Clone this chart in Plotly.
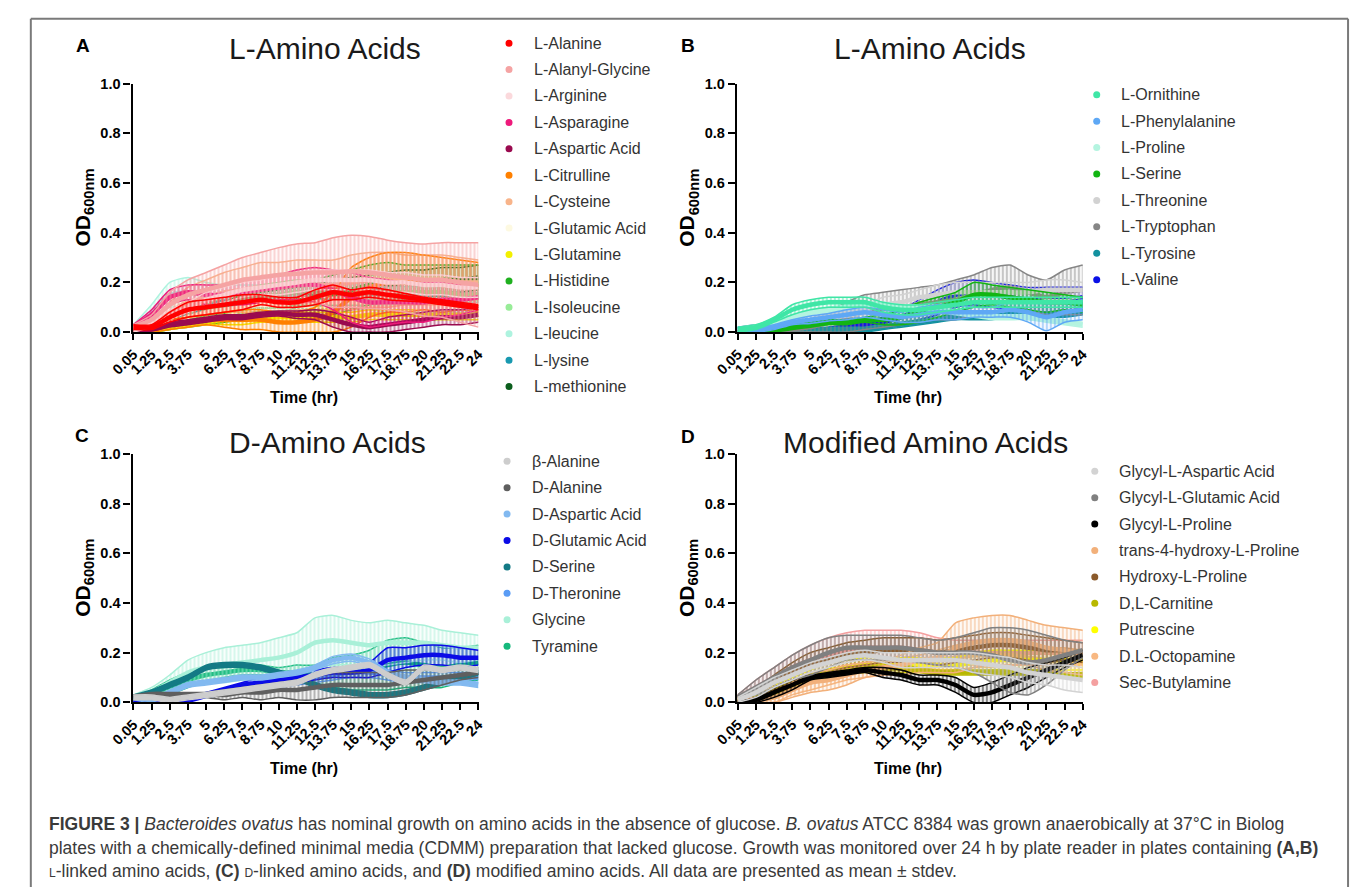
import plotly.graph_objects as go

W, H = 1357, 895
FONT = "Liberation Sans, Arial, sans-serif"

# ---------------- shared x categories (time, hr) ----------------
times = ["0.05", "1.25", "2.5", "3.75", "5", "6.25", "7.5", "8.75", "10", "11.25",
         "12.5", "13.75", "15", "16.25", "17.5", "18.75", "20", "21.25", "22.5", "24"]
y_ticks = [0.0, 0.2, 0.4, 0.6, 0.8, 1.0]
y_ticktext = ["0.0", "0.2", "0.4", "0.6", "0.8", "1.0"]

# ---------------- Panel A: L-Amino Acids ----------------
A_names = ["L-Alanine", "L-Alanyl-Glycine", "L-Arginine", "L-Asparagine", "L-Aspartic Acid",
           "L-Citrulline", "L-Cysteine", "L-Glutamic Acid", "L-Glutamine", "L-Histidine",
           "L-Isoleucine", "L-leucine", "L-lysine", "L-methionine"]
A_colors = ["#ff0000", "#f5a3a3", "#fbd9dc", "#ee1a7b", "#9a0a4f", "#ff8000", "#f8b48a",
            "#fdf9e1", "#f3f000", "#1fb01f", "#98ec98", "#aef3df", "#1899b0", "#0b5e1d"]
A_alanine_mean = [0.02, 0.02, 0.06, 0.09, 0.10, 0.11, 0.12, 0.13, 0.12, 0.12, 0.14, 0.16, 0.15, 0.16, 0.15, 0.14, 0.13, 0.12, 0.11, 0.10]
A_alanine_err = [0.01, 0.01, 0.02, 0.03, 0.03, 0.03, 0.03, 0.02, 0.02, 0.02, 0.03, 0.03, 0.02, 0.02, 0.02, 0.015, 0.01, 0.01, 0.01, 0.01]
A_alanylgly_mean = [0.02, 0.05, 0.11, 0.15, 0.17, 0.19, 0.21, 0.22, 0.23, 0.235, 0.24, 0.24, 0.245, 0.24, 0.23, 0.22, 0.21, 0.21, 0.20, 0.19]
A_alanylgly_err = [0.01, 0.02, 0.05, 0.06, 0.07, 0.08, 0.09, 0.10, 0.11, 0.12, 0.12, 0.14, 0.145, 0.145, 0.14, 0.14, 0.145, 0.15, 0.16, 0.17]
A_arginine_mean = [0.01, 0.03, 0.07, 0.10, 0.13, 0.15, 0.17, 0.18, 0.19, 0.20, 0.21, 0.21, 0.21, 0.21, 0.20, 0.20, 0.19, 0.19, 0.18, 0.18]
A_arginine_err = [0.01, 0.01, 0.02, 0.02, 0.03, 0.03, 0.03, 0.03, 0.04, 0.04, 0.04, 0.04, 0.04, 0.04, 0.04, 0.04, 0.04, 0.04, 0.04, 0.04]
A_asparagine_mean = [0.02, 0.07, 0.14, 0.16, 0.15, 0.15, 0.16, 0.17, 0.18, 0.19, 0.19, 0.17, 0.14, 0.12, 0.12, 0.12, 0.12, 0.13, 0.13, 0.14]
A_asparagine_err = [0.01, 0.02, 0.03, 0.03, 0.04, 0.04, 0.05, 0.05, 0.05, 0.06, 0.07, 0.08, 0.10, 0.10, 0.09, 0.08, 0.08, 0.07, 0.06, 0.05]
A_aspartic_mean = [0.01, 0.01, 0.03, 0.04, 0.05, 0.06, 0.06, 0.07, 0.075, 0.07, 0.07, 0.05, 0.03, 0.02, 0.03, 0.04, 0.05, 0.06, 0.06, 0.07]
A_aspartic_err = [0.005, 0.005, 0.01, 0.01, 0.01, 0.01, 0.01, 0.01, 0.01, 0.015, 0.02, 0.03, 0.03, 0.02, 0.03, 0.03, 0.03, 0.03, 0.03, 0.03]
A_citrulline_mean = [0.01, 0.01, 0.03, 0.04, 0.05, 0.05, 0.05, 0.05, 0.04, 0.04, 0.05, 0.08, 0.14, 0.18, 0.20, 0.20, 0.20, 0.19, 0.19, 0.18]
A_citrulline_err = [0.005, 0.01, 0.02, 0.02, 0.02, 0.03, 0.04, 0.04, 0.04, 0.04, 0.05, 0.08, 0.12, 0.12, 0.12, 0.12, 0.11, 0.11, 0.10, 0.10]
A_cysteine_mean = [0.01, 0.03, 0.08, 0.12, 0.14, 0.16, 0.17, 0.18, 0.18, 0.19, 0.19, 0.19, 0.20, 0.21, 0.21, 0.21, 0.21, 0.21, 0.20, 0.20]
A_cysteine_err = [0.005, 0.02, 0.04, 0.06, 0.07, 0.08, 0.09, 0.10, 0.10, 0.10, 0.10, 0.10, 0.11, 0.11, 0.11, 0.10, 0.10, 0.10, 0.10, 0.09]
A_glutamic_mean = [0.01, 0.02, 0.04, 0.06, 0.08, 0.09, 0.10, 0.11, 0.11, 0.12, 0.12, 0.12, 0.12, 0.12, 0.12, 0.12, 0.11, 0.11, 0.11, 0.11]
A_glutamic_err = [0.01, 0.01, 0.01, 0.02, 0.02, 0.02, 0.02, 0.02, 0.02, 0.02, 0.02, 0.02, 0.02, 0.02, 0.02, 0.02, 0.02, 0.02, 0.02, 0.02]
A_glutamine_mean = [0.01, 0.01, 0.02, 0.03, 0.04, 0.05, 0.05, 0.06, 0.06, 0.06, 0.06, 0.06, 0.06, 0.07, 0.07, 0.07, 0.07, 0.07, 0.07, 0.07]
A_glutamine_err = [0.005, 0.01, 0.01, 0.01, 0.01, 0.02, 0.02, 0.02, 0.02, 0.02, 0.02, 0.02, 0.02, 0.02, 0.02, 0.02, 0.02, 0.02, 0.02, 0.02]
A_histidine_mean = [0.01, 0.01, 0.02, 0.04, 0.06, 0.08, 0.10, 0.11, 0.12, 0.13, 0.14, 0.15, 0.17, 0.19, 0.20, 0.20, 0.20, 0.20, 0.20, 0.20]
A_histidine_err = [0.005, 0.01, 0.01, 0.02, 0.03, 0.04, 0.05, 0.05, 0.06, 0.06, 0.07, 0.08, 0.08, 0.08, 0.08, 0.07, 0.07, 0.07, 0.07, 0.07]
A_isoleucine_mean = [0.01, 0.01, 0.02, 0.05, 0.08, 0.11, 0.13, 0.14, 0.15, 0.16, 0.16, 0.16, 0.16, 0.16, 0.16, 0.16, 0.16, 0.16, 0.15, 0.15]
A_isoleucine_err = [0.005, 0.01, 0.01, 0.02, 0.03, 0.03, 0.04, 0.05, 0.05, 0.05, 0.05, 0.05, 0.05, 0.05, 0.05, 0.05, 0.05, 0.05, 0.05, 0.05]
A_leucine_mean = [0.02, 0.08, 0.15, 0.16, 0.15, 0.14, 0.14, 0.14, 0.14, 0.14, 0.14, 0.14, 0.14, 0.14, 0.13, 0.13, 0.13, 0.13, 0.13, 0.13]
A_leucine_err = [0.01, 0.03, 0.05, 0.06, 0.05, 0.05, 0.05, 0.05, 0.05, 0.05, 0.05, 0.05, 0.05, 0.05, 0.05, 0.05, 0.05, 0.05, 0.05, 0.05]
A_lysine_mean = [0.01, 0.02, 0.05, 0.07, 0.09, 0.10, 0.11, 0.12, 0.12, 0.13, 0.13, 0.14, 0.14, 0.14, 0.15, 0.15, 0.15, 0.15, 0.15, 0.15]
A_lysine_err = [0.01, 0.01, 0.02, 0.02, 0.02, 0.03, 0.03, 0.03, 0.03, 0.03, 0.03, 0.03, 0.03, 0.03, 0.03, 0.03, 0.03, 0.03, 0.03, 0.03]
A_methionine_mean = [0.01, 0.02, 0.04, 0.06, 0.08, 0.10, 0.11, 0.12, 0.13, 0.14, 0.15, 0.16, 0.17, 0.18, 0.19, 0.20, 0.20, 0.21, 0.21, 0.22]
A_methionine_err = [0.01, 0.01, 0.02, 0.02, 0.03, 0.03, 0.03, 0.04, 0.04, 0.04, 0.04, 0.05, 0.05, 0.05, 0.05, 0.05, 0.05, 0.05, 0.05, 0.05]
A_means = [A_alanine_mean, A_alanylgly_mean, A_arginine_mean, A_asparagine_mean, A_aspartic_mean,
           A_citrulline_mean, A_cysteine_mean, A_glutamic_mean, A_glutamine_mean, A_histidine_mean,
           A_isoleucine_mean, A_leucine_mean, A_lysine_mean, A_methionine_mean]
A_errs = [A_alanine_err, A_alanylgly_err, A_arginine_err, A_asparagine_err, A_aspartic_err,
          A_citrulline_err, A_cysteine_err, A_glutamic_err, A_glutamine_err, A_histidine_err,
          A_isoleucine_err, A_leucine_err, A_lysine_err, A_methionine_err]

# ---------------- Panel B: L-Amino Acids ----------------
B_names = ["L-Ornithine", "L-Phenylalanine", "L-Proline", "L-Serine", "L-Threonine",
           "L-Tryptophan", "L-Tyrosine", "L-Valine"]
B_colors = ["#3fe6a6", "#5ea8f5", "#b4f4e0", "#12b512", "#d2d2d2", "#868686", "#13919f", "#0a10e6"]
B_ornithine_mean = [0.01, 0.02, 0.05, 0.09, 0.11, 0.12, 0.12, 0.12, 0.10, 0.09, 0.09, 0.10, 0.11, 0.12, 0.12, 0.12, 0.12, 0.12, 0.12, 0.12]
B_ornithine_err = [0.01, 0.01, 0.01, 0.02, 0.02, 0.02, 0.02, 0.02, 0.02, 0.02, 0.02, 0.02, 0.02, 0.02, 0.02, 0.02, 0.02, 0.02, 0.02, 0.02]
B_phenylalanine_mean = [0.01, 0.01, 0.02, 0.04, 0.05, 0.06, 0.07, 0.08, 0.07, 0.06, 0.07, 0.08, 0.08, 0.08, 0.08, 0.09, 0.08, 0.06, 0.08, 0.09]
B_phenylalanine_err = [0.01, 0.01, 0.01, 0.01, 0.015, 0.015, 0.02, 0.02, 0.02, 0.02, 0.03, 0.03, 0.03, 0.02, 0.02, 0.03, 0.04, 0.055, 0.04, 0.04]
B_proline_mean = [0.01, 0.02, 0.04, 0.06, 0.08, 0.09, 0.10, 0.11, 0.11, 0.10, 0.10, 0.09, 0.08, 0.07, 0.06, 0.06, 0.06, 0.05, 0.04, 0.03]
B_proline_err = [0.01, 0.01, 0.01, 0.01, 0.01, 0.01, 0.01, 0.01, 0.01, 0.01, 0.01, 0.01, 0.01, 0.01, 0.01, 0.01, 0.01, 0.01, 0.01, 0.01]
B_serine_mean = [0.0, 0.0, 0.01, 0.02, 0.03, 0.04, 0.04, 0.05, 0.05, 0.06, 0.08, 0.10, 0.12, 0.15, 0.15, 0.14, 0.13, 0.12, 0.12, 0.11]
B_serine_err = [0.005, 0.005, 0.01, 0.01, 0.01, 0.01, 0.01, 0.01, 0.02, 0.03, 0.04, 0.04, 0.04, 0.05, 0.04, 0.04, 0.04, 0.04, 0.03, 0.03]
B_threonine_mean = [0.0, 0.01, 0.02, 0.03, 0.05, 0.07, 0.08, 0.09, 0.11, 0.12, 0.14, 0.15, 0.16, 0.16, 0.16, 0.16, 0.16, 0.17, 0.17, 0.17]
B_threonine_err = [0.01, 0.01, 0.01, 0.01, 0.02, 0.02, 0.02, 0.02, 0.03, 0.03, 0.03, 0.04, 0.04, 0.04, 0.04, 0.04, 0.04, 0.04, 0.04, 0.03]
B_tryptophan_mean = [0.0, 0.0, 0.0, 0.01, 0.02, 0.04, 0.06, 0.08, 0.09, 0.10, 0.11, 0.12, 0.13, 0.15, 0.17, 0.18, 0.16, 0.14, 0.16, 0.17]
B_tryptophan_err = [0.0, 0.0, 0.0, 0.01, 0.02, 0.04, 0.06, 0.07, 0.07, 0.07, 0.07, 0.07, 0.08, 0.08, 0.09, 0.09, 0.07, 0.07, 0.09, 0.10]
B_tyrosine_mean = [0.01, 0.02, 0.01, 0.01, 0.01, 0.01, 0.01, 0.01, 0.02, 0.03, 0.04, 0.05, 0.06, 0.06, 0.06, 0.07, 0.07, 0.07, 0.07, 0.08]
B_tyrosine_err = [0.01, 0.01, 0.01, 0.01, 0.01, 0.01, 0.01, 0.01, 0.01, 0.01, 0.01, 0.01, 0.01, 0.01, 0.01, 0.01, 0.01, 0.01, 0.01, 0.01]
B_valine_mean = [0.0, 0.0, 0.0, 0.0, 0.0, 0.01, 0.02, 0.03, 0.04, 0.06, 0.09, 0.12, 0.15, 0.16, 0.15, 0.14, 0.13, 0.13, 0.13, 0.14]
B_valine_err = [0.0, 0.0, 0.0, 0.0, 0.0, 0.01, 0.01, 0.01, 0.02, 0.03, 0.04, 0.05, 0.05, 0.05, 0.05, 0.05, 0.05, 0.05, 0.05, 0.04]
B_means = [B_ornithine_mean, B_phenylalanine_mean, B_proline_mean, B_serine_mean, B_threonine_mean,
           B_tryptophan_mean, B_tyrosine_mean, B_valine_mean]
B_errs = [B_ornithine_err, B_phenylalanine_err, B_proline_err, B_serine_err, B_threonine_err,
          B_tryptophan_err, B_tyrosine_err, B_valine_err]

# ---------------- Panel C: D-Amino Acids ----------------
C_names = ["β-Alanine", "D-Alanine", "D-Aspartic Acid", "D-Glutamic Acid", "D-Serine",
           "D-Theronine", "Glycine", "Tyramine"]
C_colors = ["#cdcdcd", "#5f5f5f", "#82b9f0", "#0b0be6", "#137a85", "#5a9cf5", "#a9f0d8", "#16b87c"]
C_balanine_mean = [0.02, 0.02, 0.01, 0.02, 0.03, 0.04, 0.05, 0.06, 0.07, 0.08, 0.11, 0.13, 0.14, 0.15, 0.11, 0.08, 0.14, 0.13, 0.14, 0.13]
C_balanine_err = [0.01, 0.01, 0.01, 0.01, 0.01, 0.01, 0.01, 0.01, 0.01, 0.01, 0.01, 0.01, 0.01, 0.01, 0.01, 0.01, 0.01, 0.01, 0.01, 0.01]
C_dalanine_mean = [0.02, 0.03, 0.03, 0.03, 0.03, 0.03, 0.04, 0.04, 0.05, 0.05, 0.06, 0.07, 0.07, 0.07, 0.07, 0.08, 0.09, 0.10, 0.11, 0.12]
C_dalanine_err = [0.01, 0.01, 0.01, 0.01, 0.01, 0.02, 0.02, 0.03, 0.03, 0.04, 0.05, 0.05, 0.05, 0.05, 0.05, 0.05, 0.04, 0.03, 0.02, 0.02]
C_daspartic_mean = [0.02, 0.01, 0.04, 0.07, 0.08, 0.09, 0.10, 0.10, 0.11, 0.12, 0.14, 0.17, 0.18, 0.16, 0.12, 0.10, 0.09, 0.08, 0.08, 0.07]
C_daspartic_err = [0.01, 0.01, 0.01, 0.01, 0.01, 0.01, 0.01, 0.01, 0.01, 0.01, 0.01, 0.015, 0.015, 0.015, 0.01, 0.01, 0.01, 0.01, 0.01, 0.01]
C_dglutamic_mean = [0.0, 0.0, 0.0, 0.01, 0.03, 0.05, 0.07, 0.08, 0.09, 0.10, 0.11, 0.12, 0.12, 0.13, 0.17, 0.18, 0.19, 0.19, 0.18, 0.18]
C_dglutamic_err = [0.0, 0.0, 0.0, 0.01, 0.01, 0.01, 0.01, 0.02, 0.02, 0.02, 0.02, 0.02, 0.02, 0.03, 0.05, 0.04, 0.04, 0.04, 0.04, 0.03]
C_dserine_mean = [0.02, 0.04, 0.07, 0.10, 0.14, 0.15, 0.15, 0.14, 0.12, 0.10, 0.07, 0.05, 0.04, 0.03, 0.03, 0.04, 0.06, 0.08, 0.10, 0.12]
C_dserine_err = [0.01, 0.01, 0.01, 0.01, 0.01, 0.01, 0.01, 0.01, 0.01, 0.01, 0.01, 0.01, 0.01, 0.01, 0.01, 0.01, 0.01, 0.01, 0.01, 0.01]
C_dthreonine_mean = [0.0, 0.0, 0.01, 0.02, 0.03, 0.04, 0.05, 0.06, 0.07, 0.08, 0.10, 0.11, 0.12, 0.12, 0.11, 0.10, 0.10, 0.10, 0.10, 0.10]
C_dthreonine_err = [0.0, 0.0, 0.01, 0.01, 0.01, 0.01, 0.01, 0.01, 0.01, 0.01, 0.02, 0.02, 0.02, 0.02, 0.02, 0.02, 0.02, 0.02, 0.02, 0.02]
C_glycine_mean = [0.02, 0.04, 0.08, 0.12, 0.14, 0.15, 0.16, 0.17, 0.18, 0.20, 0.24, 0.25, 0.24, 0.23, 0.24, 0.24, 0.24, 0.23, 0.22, 0.22]
C_glycine_err = [0.01, 0.02, 0.03, 0.05, 0.06, 0.07, 0.07, 0.07, 0.08, 0.08, 0.10, 0.10, 0.09, 0.09, 0.09, 0.08, 0.07, 0.06, 0.06, 0.05]
C_tyramine_mean = [0.01, 0.03, 0.06, 0.09, 0.11, 0.12, 0.13, 0.13, 0.12, 0.12, 0.11, 0.12, 0.12, 0.13, 0.15, 0.16, 0.15, 0.14, 0.15, 0.16]
C_tyramine_err = [0.01, 0.02, 0.03, 0.03, 0.03, 0.02, 0.02, 0.02, 0.02, 0.03, 0.04, 0.06, 0.07, 0.08, 0.10, 0.10, 0.09, 0.08, 0.07, 0.07]
C_means = [C_balanine_mean, C_dalanine_mean, C_daspartic_mean, C_dglutamic_mean, C_dserine_mean,
           C_dthreonine_mean, C_glycine_mean, C_tyramine_mean]
C_errs = [C_balanine_err, C_dalanine_err, C_daspartic_err, C_dglutamic_err, C_dserine_err,
          C_dthreonine_err, C_glycine_err, C_tyramine_err]

# ---------------- Panel D: Modified Amino Acids ----------------
D_names = ["Glycyl-L-Aspartic Acid", "Glycyl-L-Glutamic Acid", "Glycyl-L-Proline",
           "trans-4-hydroxy-L-Proline", "Hydroxy-L-Proline", "D,L-Carnitine", "Putrescine",
           "D.L-Octopamine", "Sec-Butylamine"]
D_colors = ["#d3d3d3", "#808080", "#000000", "#f2b07a", "#8b5a2b", "#b8b800", "#ffff00", "#f8b882", "#f4a0a0"]
D_glyasp_mean = [0.01, 0.04, 0.08, 0.11, 0.14, 0.16, 0.18, 0.19, 0.18, 0.17, 0.17, 0.17, 0.17, 0.16, 0.15, 0.14, 0.12, 0.11, 0.10, 0.09]
D_glyasp_err = [0.01, 0.02, 0.02, 0.02, 0.02, 0.02, 0.02, 0.02, 0.02, 0.03, 0.03, 0.03, 0.03, 0.04, 0.04, 0.04, 0.04, 0.04, 0.05, 0.05]
D_glyglu_mean = [0.02, 0.06, 0.10, 0.14, 0.17, 0.20, 0.22, 0.22, 0.22, 0.22, 0.21, 0.20, 0.20, 0.20, 0.19, 0.17, 0.16, 0.17, 0.19, 0.21]
D_glyglu_err = [0.01, 0.03, 0.04, 0.05, 0.06, 0.06, 0.05, 0.05, 0.05, 0.05, 0.05, 0.05, 0.06, 0.08, 0.11, 0.13, 0.13, 0.10, 0.06, 0.03]
D_glypro_mean = [0.0, 0.01, 0.04, 0.07, 0.10, 0.11, 0.12, 0.13, 0.12, 0.11, 0.09, 0.09, 0.07, 0.03, 0.04, 0.07, 0.10, 0.13, 0.16, 0.19]
D_glypro_err = [0.0, 0.01, 0.02, 0.02, 0.01, 0.01, 0.01, 0.01, 0.02, 0.02, 0.02, 0.02, 0.03, 0.03, 0.04, 0.04, 0.04, 0.03, 0.02, 0.02]
D_trans4hyp_mean = [0.01, 0.01, 0.02, 0.05, 0.08, 0.09, 0.11, 0.13, 0.14, 0.15, 0.17, 0.18, 0.22, 0.24, 0.25, 0.25, 0.24, 0.22, 0.21, 0.20]
D_trans4hyp_err = [0.005, 0.01, 0.02, 0.03, 0.04, 0.04, 0.04, 0.03, 0.03, 0.04, 0.05, 0.06, 0.10, 0.10, 0.10, 0.10, 0.09, 0.09, 0.09, 0.09]
D_hydroxypro_mean = [0.01, 0.04, 0.08, 0.12, 0.15, 0.17, 0.19, 0.20, 0.21, 0.21, 0.21, 0.20, 0.21, 0.22, 0.23, 0.23, 0.22, 0.21, 0.21, 0.20]
D_hydroxypro_err = [0.01, 0.02, 0.03, 0.04, 0.05, 0.05, 0.05, 0.05, 0.05, 0.05, 0.05, 0.05, 0.05, 0.05, 0.05, 0.05, 0.05, 0.05, 0.04, 0.04]
D_carnitine_mean = [0.01, 0.02, 0.05, 0.08, 0.10, 0.12, 0.13, 0.14, 0.14, 0.14, 0.13, 0.12, 0.12, 0.12, 0.12, 0.12, 0.12, 0.12, 0.11, 0.11]
D_carnitine_err = [0.01, 0.01, 0.01, 0.01, 0.01, 0.01, 0.01, 0.01, 0.01, 0.01, 0.01, 0.01, 0.01, 0.01, 0.01, 0.01, 0.01, 0.01, 0.01, 0.01]
D_putrescine_mean = [0.01, 0.02, 0.05, 0.08, 0.11, 0.13, 0.14, 0.15, 0.15, 0.15, 0.15, 0.15, 0.15, 0.16, 0.17, 0.17, 0.17, 0.17, 0.17, 0.17]
D_putrescine_err = [0.01, 0.02, 0.02, 0.02, 0.02, 0.03, 0.03, 0.03, 0.03, 0.03, 0.03, 0.03, 0.03, 0.04, 0.04, 0.04, 0.04, 0.04, 0.04, 0.04]
D_octopamine_mean = [0.01, 0.01, 0.03, 0.06, 0.08, 0.10, 0.12, 0.13, 0.14, 0.15, 0.16, 0.17, 0.18, 0.19, 0.19, 0.19, 0.18, 0.17, 0.17, 0.16]
D_octopamine_err = [0.01, 0.01, 0.03, 0.03, 0.03, 0.03, 0.03, 0.03, 0.03, 0.03, 0.03, 0.04, 0.05, 0.05, 0.05, 0.05, 0.05, 0.05, 0.05, 0.05]
D_secbutyl_mean = [0.02, 0.06, 0.10, 0.14, 0.17, 0.19, 0.21, 0.22, 0.22, 0.22, 0.21, 0.20, 0.20, 0.20, 0.20, 0.20, 0.20, 0.20, 0.20, 0.20]
D_secbutyl_err = [0.01, 0.03, 0.04, 0.05, 0.06, 0.07, 0.07, 0.07, 0.07, 0.07, 0.07, 0.06, 0.05, 0.05, 0.05, 0.05, 0.05, 0.05, 0.05, 0.05]
D_means = [D_glyasp_mean, D_glyglu_mean, D_glypro_mean, D_trans4hyp_mean, D_hydroxypro_mean,
           D_carnitine_mean, D_putrescine_mean, D_octopamine_mean, D_secbutyl_mean]
D_errs = [D_glyasp_err, D_glyglu_err, D_glypro_err, D_trans4hyp_err, D_hydroxypro_err,
          D_carnitine_err, D_putrescine_err, D_octopamine_err, D_secbutyl_err]


def px(x):
    return x / W


def py(y):
    return 1 - y / H


def rgba(hexc, a):
    h = hexc.lstrip("#")
    r, g, b = int(h[0:2], 16), int(h[2:4], 16), int(h[4:6], 16)
    return f"rgba({r},{g},{b},{a})"


panels = [
    ("", "L-Amino Acids", "A", A_names, A_colors, A_means, A_errs, (112, 466, 77, 330), (497, 520, 35.8), (309, 41), (61, 38)),
    ("2", "L-Amino Acids", "B", B_names, B_colors, B_means, B_errs, (730, 1084, 77, 330), (1098, 1121, 88.3), (927, 41), (680, 38)),
    ("3", "D-Amino Acids", "C", C_names, C_colors, C_means, C_errs, (112, 466, 454, 707), (495, 518, 461.5), (311, 442), (60, 435)),
    ("4", "Modified Amino Acids", "D", D_names, D_colors, D_means, D_errs, (730, 1084, 454, 707), (1096, 1119, 471.7), (923, 442), (680, 436)),
]

fig = go.Figure()
annotations = []
shapes = []
LEG_STEP = 26.9

for key, title, letter, names, colors, means, errs, box, leg, tpos, lpos in panels:
    xa, ya = "x" + key, "y" + key
    for name, color, mean, err in reversed(list(zip(names, colors, means, errs))):
        lo = [m - e for m, e in zip(mean, err)]
        hi = [m + e for m, e in zip(mean, err)]
        fig.add_trace(go.Scatter(x=times, y=lo, mode="lines", xaxis=xa, yaxis=ya,
                                 line=dict(color=color, width=1.5, shape="spline", smoothing=0.6),
                                 showlegend=False, hoverinfo="skip"))
        fig.add_trace(go.Scatter(x=times, y=hi, mode="lines", xaxis=xa, yaxis=ya,
                                 line=dict(color=color, width=1.5, shape="spline", smoothing=0.6),
                                 fill="tonexty", fillcolor=rgba(color, 0.12),
                                 fillpattern=dict(shape="|", fgcolor=color, bgcolor=rgba(color, 0.08),
                                                  size=4, solidity=0.42),
                                 showlegend=False, hoverinfo="skip"))
        fig.add_trace(go.Scatter(x=times, y=mean, mode="lines", name=name, xaxis=xa, yaxis=ya,
                                 line=dict(color=color, width=4.5, shape="spline", smoothing=0.6),
                                 showlegend=False))

    l, r, t, b = box
    axis_common = dict(showline=True, linecolor="black", linewidth=2.2, ticks="outside",
                       tickcolor="black", tickwidth=2, showgrid=False, zeroline=False,
                       tickfont=dict(family=FONT, size=14.5, color="black", weight="bold"))
    fig.layout["xaxis" + key] = dict(domain=[px(l), px(r)], anchor=ya, type="category",
                                     categoryorder="array", categoryarray=times,
                                     range=[-0.05, 19.02], tickangle=-45, ticklen=6, **axis_common)
    fig.layout["yaxis" + key] = dict(domain=[py(b), py(t)], anchor=xa, range=[0, 1],
                                     tickvals=y_ticks, ticktext=y_ticktext, ticklen=7, **axis_common)

    annotations.append(dict(x=px(tpos[0]), y=py(tpos[1]), xref="paper", yref="paper", text=title,
                            showarrow=False, xanchor="center", yanchor="middle",
                            font=dict(family=FONT, size=30, color="#1a1a1a")))
    annotations.append(dict(x=px(lpos[0]), y=py(lpos[1]), xref="paper", yref="paper", text=letter,
                            showarrow=False, xanchor="center", yanchor="middle",
                            font=dict(family=FONT, size=19, color="black", weight="bold")))
    annotations.append(dict(x=px(l - 50), y=py((t + b) / 2), xref="paper", yref="paper",
                            text="OD<sub>600nm</sub>", textangle=-90, showarrow=False,
                            xanchor="center", yanchor="middle",
                            font=dict(family=FONT, size=21, color="black", weight="bold")))
    annotations.append(dict(x=px((l + r) / 2 - 2), y=py(b + 67), xref="paper", yref="paper",
                            text="Time (hr)", showarrow=False, xanchor="center", yanchor="middle",
                            font=dict(family=FONT, size=16, color="black", weight="bold")))
    dot_x, text_x, y0 = leg
    for i, (name, color) in enumerate(zip(names, colors)):
        yy = y0 + i * LEG_STEP
        shapes.append(dict(type="circle", xref="paper", yref="paper", xsizemode="pixel",
                           ysizemode="pixel", xanchor=px(dot_x), yanchor=py(yy),
                           x0=-3.5, x1=3.5, y0=-3.5, y1=3.5, fillcolor=color, line=dict(width=0)))
        annotations.append(dict(x=px(text_x), y=py(yy), xref="paper", yref="paper", text=name,
                                showarrow=False, xanchor="left", yanchor="middle",
                                font=dict(family=FONT, size=16, color="#333333")))

# outer figure frame (open at the bottom, kept inside the page)
frame = dict(color="#7a7a7a", width=2)
shapes.append(dict(type="line", xref="paper", yref="paper", x0=px(8), x1=px(8), y0=0, y1=py(11), line=frame))
shapes.append(dict(type="line", xref="paper", yref="paper", x0=px(8), x1=px(1355), y0=py(11), y1=py(11), line=frame))
shapes.append(dict(type="line", xref="paper", yref="paper", x0=px(1355), x1=px(1355), y0=0, y1=py(11), line=frame))

caption_lines = [
    "<b>FIGURE 3 |</b> <i>Bacteroides ovatus</i> has nominal growth on amino acids in the absence of glucose. "
    "<i>B. ovatus</i> ATCC 8384 was grown anaerobically at 37°C in Biolog",
    "plates with a chemically-defined minimal media (CDMM) preparation that lacked glucose. Growth was "
    "monitored over 24 h by plate reader in plates containing <b>(A,B)</b>",
    "<span style='font-size:12px'>L</span>-linked amino acids, <b>(C)</b> "
    "<span style='font-size:12px'>D</span>-linked amino acids, and <b>(D)</b> modified amino acids. "
    "All data are presented as mean ± stdev.",
]
for i, line in enumerate(caption_lines):
    annotations.append(dict(x=px(25), y=py(831 + 24 * i), xref="paper", yref="paper", text=line,
                            showarrow=False, xanchor="left", yanchor="middle",
                            font=dict(family=FONT, size=17.5, color="#3a3a3a")))

fig.update_layout(width=W, height=H, autosize=False, margin=dict(l=0, r=0, t=0, b=0),
                  paper_bgcolor="white", plot_bgcolor="rgba(0,0,0,0)", showlegend=False,
                  annotations=annotations, shapes=shapes, font=dict(family=FONT))

fig.write_html("out.html", config={"displayModeBar": False},
               post_script="document.body.style.margin='0';document.body.style.overflow='hidden';")
